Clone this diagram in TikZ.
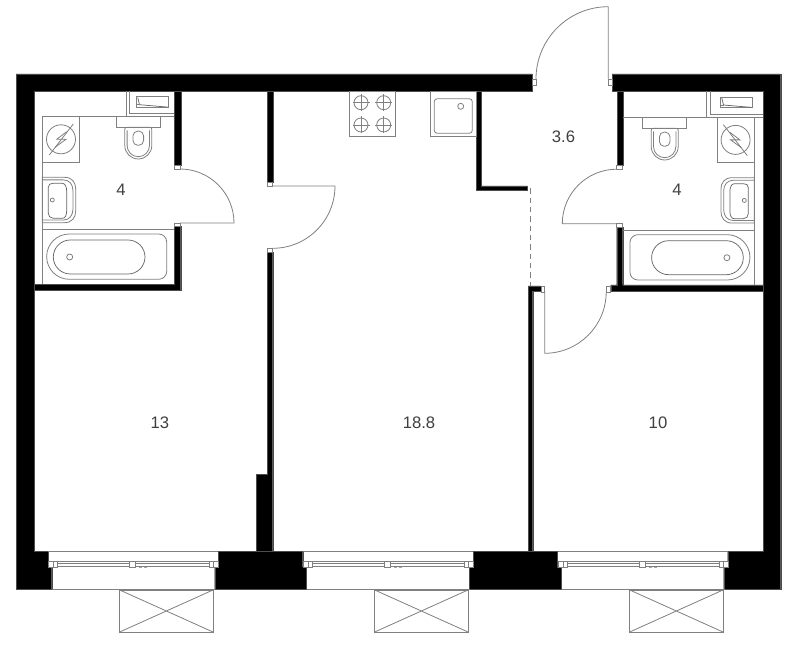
\documentclass[tikz,border=0pt]{standalone}
\usepackage{fontspec}
\setmainfont{Liberation Sans}
\definecolor{ln}{gray}{0.5}
\tikzset{
  wall/.style={fill=black,draw=black!70,line width=.3pt},
  thin line/.style={draw=ln,line width=.6pt},
  dark line/.style={draw=black!60,line width=.55pt},
  jamb/.style={fill=white,draw=ln,line width=.5pt},
  area/.style={font=\fontsize{12.5pt}{14pt}\selectfont,text=black!75,inner sep=0pt}
}
% fixtures are drawn in local coordinates
\newcommand{\planWindow}[1]{%
  \begin{scope}[shift={(#1,0)}]
    \draw[thin line] (0,551.6) -- (170,551.6);
    \draw[thin line] (3.7,589.2) -- (166.7,589.2);
    \draw[thin line] (9,561.7) rectangle (81,566.7);
    \draw[thin line] (87,561.7) rectangle (161,566.7);
    \draw[thin line] (9,563.7) -- (81,563.7) (87,563.7) -- (161,563.7);
    \draw[jamb] (0,561) rectangle (5,567);
    \draw[thin line] (5,561) rectangle (9,567);
    \draw[jamb] (81,561) rectangle (87,567);
    \draw[jamb] (161,561) rectangle (170,567);
    \draw[thin line] (165,561) -- (165,567);
    \draw[draw=black!35,line width=.4pt,dash pattern=on 2pt off 2pt] (91,567.5) -- (101,567.5);
    \draw[thin line] (71.7,590) rectangle (165,632);
    \draw[thin line] (71.7,590) -- (165,632) (71.7,632) -- (165,590);
  \end{scope}}
\newcommand{\planWasher}{%
  \draw[thin line] (0,0) rectangle (37,45.6);
  \draw[thin line] (18.7,22.6) circle (14.5);
  \draw[thin line] (7,38.3) -- (31,7.3);
  \draw[thin line] (24.4,15) -- (14.4,22.6) -- (23.7,22.6) -- (12.7,30.6);}
\newcommand{\planSink}{%
  \draw[thin line] (0,0) -- (22,0) .. controls (30,0) and (33.4,5) .. (33.4,12) -- (33.4,33.4) .. controls (33.4,40) and (30,45.4) .. (22,45.4) -- (0,45.4) -- cycle;
  \draw[thin line] (0,2.6) -- (21,2.6) .. controls (27,2.6) and (30.6,7) .. (30.6,13) -- (30.6,32.4) .. controls (30.6,38) and (27,42.8) .. (21,42.8) -- (0,42.8);
  \draw[dark line] (6,10) .. controls (6,7) and (8,6) .. (11,6) -- (20,6) .. controls (23,6) and (24.4,10) .. (24.4,14) -- (24.4,33) .. controls (24.4,38) and (23,41) .. (20,41) -- (11,41) .. controls (8,41) and (6,39) .. (6,36) -- cycle;
  \draw[thin line] (10,22.7) circle (2);}
\newcommand{\planBath}{%
  \draw[thin line] (27,4.7) -- (116.4,4.7) arc[start angle=-90,end angle=0,radius=8] -- (124.4,42) arc[start angle=0,end angle=90,radius=8] -- (27,50) arc[start angle=90,end angle=180,radius=22.65] arc[start angle=180,end angle=270,radius=22.65] -- cycle;
  \draw[dark line] (28,10.7) -- (85.7,10.7) arc[start angle=-90,end angle=90,radius=17] -- (28,44.7) arc[start angle=90,end angle=270,radius=17] -- cycle;
  \draw[thin line] (27.4,27.7) circle (3);}
\newcommand{\planToilet}{%
  \draw[thin line] (-22,-10.6) rectangle (22,0);
  \draw[thin line] (-13.5,2) .. controls (-13.5,.5) and (-12.5,0) .. (-11,0) -- (11,0) .. controls (12.5,0) and (13.5,.5) .. (13.5,2) -- (13.5,18.2) arc[start angle=0,end angle=180,radius=13.5] -- cycle;
  \draw[thin line] (-11.2,3) -- (-11.2,18.2) arc[start angle=180,end angle=0,radius=11.2] -- (11.2,3);
  \draw[thin line,rounded corners=3.6pt] (-5.3,3.8) rectangle (5.3,18);}
\newcommand{\planIcon}{%
  \draw[thin line] (0,0) rectangle (32,10.8);
  \draw[dark line] (1.8,1) -- (3.5,8) -- (31.5,10.4);
  \draw[thin line] (.5,8) -- (3.5,8);}
\newcommand{\planBurner}[1]{%
  \draw[thin line] (#1) circle (7);
  \draw[thin line] (#1) ++(-8.5,0) -- ++(17,0) (#1) ++(0,-8.5) -- ++(0,17);}
\begin{document}
\begin{tikzpicture}[x=.75pt,y=-.75pt]
\useasboundingbox[fill=white] (0,0) rectangle (800,645);
% outer walls
\draw[wall] (16,74) -- (532,74) -- (532,91) -- (34,91) -- (34,551.6) -- (48,551.6) -- (48,567) -- (51.7,567) -- (51.7,589.5) -- (16,589.5) -- cycle;
\draw[wall] (612,74) -- (780.7,74) -- (780.7,589.5) -- (723.7,589.5) -- (723.7,567) -- (727.7,567) -- (727.7,551.6) -- (763.3,551.6) -- (763.3,91) -- (612,91) -- cycle;
\draw[wall] (218,551.6) -- (302.7,551.6) -- (302.7,567) -- (306.3,567) -- (306.3,589.5) -- (214.7,589.5) -- (214.7,567) -- (218,567) -- cycle;
\draw[wall] (473.3,551.6) -- (557.3,551.6) -- (557.3,567) -- (561,567) -- (561,589.5) -- (469.3,589.5) -- (469.3,567) -- (473.3,567) -- cycle;
% inner walls
\draw[wall] (174,91) rectangle (180.7,165);
\draw[wall] (174,226.7) -- (180.7,226.7) -- (180.7,290) -- (34,290) -- (34,284.3) -- (174,284.3) -- cycle;
\draw[wall] (267.3,91) rectangle (272.7,182);
\draw[wall] (267.3,252) -- (272.7,252) -- (272.7,551.6) -- (256,551.6) -- (256,474.3) -- (267.3,474.3) -- cycle;
\draw[wall] (476,91) -- (481.3,91) -- (481.3,186) -- (527.3,186) -- (527.3,190.7) -- (476,190.7) -- cycle;
\draw[wall] (528.2,286) -- (541,286) -- (541,291) -- (532.7,291) -- (532.7,551.6) -- (528.2,551.6) -- cycle;
\draw[wall] (610.7,285) -- (616.7,285) -- (616.7,227.7) -- (622.7,227.7) -- (622.7,285) -- (763.3,285) -- (763.3,291) -- (610.7,291) -- cycle;
\draw[wall] (616.7,91) rectangle (622.7,165.7);
\draw[draw=ln,line width=.55pt,dash pattern=on 4pt off 3pt] (530,188.5) -- (530,286);
% door jambs
\draw[jamb] (174,165) rectangle (180.7,169);
\draw[jamb] (174,223) rectangle (180.7,226.7);
\draw[jamb] (267.3,182) rectangle (272.7,186);
\draw[jamb] (267.3,248) rectangle (272.7,252);
\draw[jamb] (532,79) rectangle (536,85.3);
\draw[jamb] (608.3,79) rectangle (612,85.3);
\draw[jamb] (541,286) rectangle (544.7,292);
\draw[jamb] (606.5,286) rectangle (610.7,292);
\draw[jamb] (616.7,165.7) rectangle (622.7,169.3);
\draw[jamb] (616.7,223.7) rectangle (622.7,227.7);
% door leaves
\draw[thin line] (180,223) -- (234,223) arc[start angle=0,end angle=-90,radius=54];
\draw[thin line] (272.7,186) -- (335,186) arc[start angle=0,end angle=90,radius=62.3];
\draw[thin line] (608.3,79) -- (608.3,6.7) arc[start angle=-90,end angle=-180,radius=72.3];
\draw[thin line] (544.7,292) -- (544.7,353.3) arc[start angle=90,end angle=0,radius=61.5];
\draw[thin line] (617,223.7) -- (562.3,223.7) arc[start angle=180,end angle=270,radius=54.5];
% windows and balconies
\foreach \wx in {48,303,558} {\planWindow{\wx}}
% left bathroom
\draw[thin line] (42.3,116.7) -- (174,116.7) (42.3,116.7) -- (42.3,284.3) (42.3,229.3) -- (174,229.3);
\draw[thin line] (126.7,91) -- (126.7,116.7) (129.3,91) -- (129.3,113.3) -- (174,113.3);
\begin{scope}[shift={(136,96.7)}]\planIcon\end{scope}
\begin{scope}[shift={(42.3,116.7)}]\planWasher\end{scope}
\begin{scope}[shift={(138.3,127.3)}]\planToilet\end{scope}
\begin{scope}[shift={(42.3,177.3)}]\planSink\end{scope}
\begin{scope}[shift={(42.3,229.3)}]\planBath\end{scope}
% right bathroom
\draw[thin line] (622.7,117.3) -- (763.3,117.3) (754.3,117.3) -- (754.3,285) (622.7,230) -- (754.3,230);
\draw[thin line] (706.7,91) -- (706.7,117.3) (710,91) -- (710,114.3) -- (763.3,114.3);
\begin{scope}[shift={(720,97)}]\planIcon\end{scope}
\begin{scope}[shift={(754.3,117.3)},xscale=-1]\planWasher\end{scope}
\begin{scope}[shift={(664.7,128.3)}]\planToilet\end{scope}
\begin{scope}[shift={(754.3,177.7)},xscale=-1]\planSink\end{scope}
\begin{scope}[shift={(754.3,230)},xscale=-1]\planBath\end{scope}
% kitchen
\draw[thin line] (349,91) rectangle (395.3,136.7);
\planBurner{361,102.7}
\planBurner{383.7,102.7}
\planBurner{361,125}
\planBurner{383.7,125}
\draw[thin line] (430.3,91) rectangle (476,136.7);
\draw[thin line,rounded corners=2.2pt] (434.3,98.7) rectangle (472.3,133.3);
\draw[thin line] (460.7,106.3) circle (3);
% areas
\node[area] (bathL) at (121,189.5) {4};
\node[area] (bathR) at (677,189.5) {4};
\node[area] (hall) at (563.5,136.5) {3.6};
\node[area] (roomL) at (160,422.5) {13};
\node[area] (kitchen) at (419,422.5) {18.8};
\node[area] (roomR) at (658,422.5) {10};
\end{tikzpicture}
\end{document}
